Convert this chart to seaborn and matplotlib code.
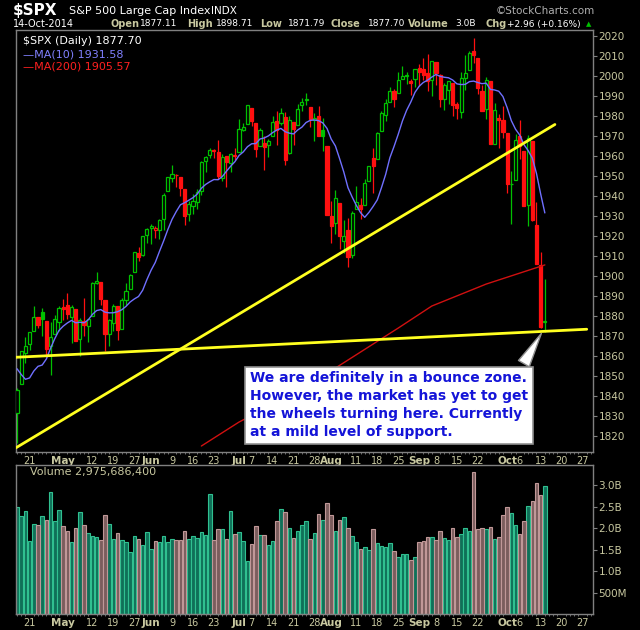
import numpy as np
import pandas as pd
import matplotlib
matplotlib.use('Agg')
import matplotlib.pyplot as plt
import seaborn as sns

# daily $SPX, 15-Apr-2014 .. 14-Oct-2014
dates = pd.to_datetime(['2014-04-15','2014-04-16','2014-04-17','2014-04-21','2014-04-22','2014-04-23','2014-04-24','2014-04-25','2014-04-28','2014-04-29','2014-04-30',
 '2014-05-01','2014-05-02','2014-05-05','2014-05-06','2014-05-07','2014-05-08','2014-05-09','2014-05-12','2014-05-13','2014-05-14','2014-05-15','2014-05-16',
 '2014-05-19','2014-05-20','2014-05-21','2014-05-22','2014-05-23','2014-05-27','2014-05-28','2014-05-29','2014-05-30',
 '2014-06-02','2014-06-03','2014-06-04','2014-06-05','2014-06-06','2014-06-09','2014-06-10','2014-06-11','2014-06-12','2014-06-13','2014-06-16','2014-06-17',
 '2014-06-18','2014-06-19','2014-06-20','2014-06-23','2014-06-24','2014-06-25','2014-06-26','2014-06-27','2014-06-30',
 '2014-07-01','2014-07-02','2014-07-03','2014-07-07','2014-07-08','2014-07-09','2014-07-10','2014-07-11','2014-07-14','2014-07-15','2014-07-16','2014-07-17',
 '2014-07-18','2014-07-21','2014-07-22','2014-07-23','2014-07-24','2014-07-25','2014-07-28','2014-07-29','2014-07-30','2014-07-31',
 '2014-08-01','2014-08-04','2014-08-05','2014-08-06','2014-08-07','2014-08-08','2014-08-11','2014-08-12','2014-08-13','2014-08-14','2014-08-15','2014-08-18',
 '2014-08-19','2014-08-20','2014-08-21','2014-08-22','2014-08-25','2014-08-26','2014-08-27','2014-08-28','2014-08-29',
 '2014-09-02','2014-09-03','2014-09-04','2014-09-05','2014-09-08','2014-09-09','2014-09-10','2014-09-11','2014-09-12','2014-09-15','2014-09-16','2014-09-17',
 '2014-09-18','2014-09-19','2014-09-22','2014-09-23','2014-09-24','2014-09-25','2014-09-26','2014-09-29','2014-09-30',
 '2014-10-01','2014-10-02','2014-10-03','2014-10-06','2014-10-07','2014-10-08','2014-10-09','2014-10-10','2014-10-13','2014-10-14'])

opens = [1831.45,1846.01,1861.73,1865.79,1872.57,1879.32,1881.97,1877.72,1865.00,1870.78,1877.10,
 1884.39,1885.30,1879.45,1883.69,1868.53,1877.39,1875.27,1880.03,1896.75,1897.13,1888.16,1871.19,
 1876.66,1884.88,1873.34,1888.19,1893.32,1902.01,1911.77,1910.60,1920.33,
 1923.87,1923.07,1923.06,1928.52,1942.41,1948.97,1950.34,1949.37,1943.35,1930.80,1934.84,1937.15,
 1942.73,1957.50,1960.45,1962.92,1961.97,1949.27,1959.89,1956.56,1960.79,
 1962.29,1973.06,1975.88,1984.22,1976.39,1965.10,1966.67,1965.76,1969.86,1977.36,1976.35,1979.75,
 1961.54,1976.93,1975.65,1985.32,1988.07,1984.60,1978.25,1980.03,1973.21,1965.14,
 1929.80,1926.62,1936.34,1917.29,1923.03,1910.35,1933.43,1935.73,1935.60,1947.41,1958.87,1958.36,
 1972.73,1980.46,1986.82,1992.60,1991.74,1998.59,2000.54,1997.42,1998.45,
 2004.07,2003.57,2001.67,1998.00,2007.17,2000.73,1988.41,1992.85,1996.74,1986.04,1981.93,1999.30,
 2003.07,2012.74,2009.08,1992.78,1983.34,1997.32,1966.22,1978.96,1978.21,
 1971.44,1945.83,1948.12,1970.01,1962.36,1935.55,1967.68,1925.63,1905.65,1877.11]
highs = [1844.02,1862.31,1869.63,1871.89,1884.89,1879.75,1884.06,1877.72,1877.01,1880.60,1885.20,
 1888.59,1891.33,1885.51,1883.69,1878.83,1889.07,1878.57,1897.13,1902.17,1897.13,1888.16,1878.28,
 1886.00,1884.88,1888.80,1896.33,1901.26,1912.28,1914.46,1920.03,1924.03,
 1925.88,1925.07,1928.63,1941.74,1949.44,1955.55,1950.86,1949.37,1943.35,1937.30,1941.15,1943.69,
 1957.74,1959.87,1963.91,1963.74,1968.17,1960.83,1959.89,1961.47,1964.24,
 1978.58,1976.67,1985.59,1984.22,1976.39,1974.15,1969.84,1968.67,1979.85,1982.52,1983.94,1981.80,
 1979.91,1976.93,1986.24,1989.23,1991.39,1984.60,1981.52,1984.85,1978.90,1965.14,
 1937.35,1942.92,1936.34,1927.91,1928.89,1932.38,1944.90,1939.20,1948.41,1955.23,1964.04,1971.99,
 1982.57,1988.57,1994.76,1993.54,2001.95,2005.04,2002.14,1998.55,2003.38,
 2006.12,2009.28,2011.17,2007.71,2007.17,2001.01,1996.66,1997.65,1996.74,1987.18,2002.28,2010.74,
 2012.34,2019.26,2009.08,1995.41,1999.79,1997.32,1986.37,1981.28,1985.17,
 1971.44,1952.32,1971.19,1977.84,1962.36,1970.36,1967.68,1936.98,1912.09,1898.71]
lows = [1816.29,1846.01,1856.72,1863.18,1872.57,1873.91,1870.24,1859.70,1850.61,1870.78,1872.69,
 1878.04,1878.50,1866.77,1867.72,1859.79,1870.05,1867.02,1880.03,1896.06,1885.77,1862.36,1864.82,
 1872.42,1868.14,1873.34,1885.39,1893.32,1902.01,1907.30,1909.82,1916.64,
 1915.98,1918.79,1918.60,1922.93,1942.41,1947.16,1944.64,1940.08,1925.78,1927.69,1930.91,1933.55,
 1940.71,1952.26,1959.17,1958.89,1948.34,1947.49,1944.69,1952.18,1958.22,
 1962.29,1972.58,1975.88,1974.88,1959.46,1965.10,1952.86,1959.63,1969.86,1965.34,1975.67,1955.59,
 1960.82,1965.77,1975.65,1982.44,1985.79,1974.37,1967.31,1969.95,1962.42,1930.67,
 1916.37,1921.20,1913.77,1911.45,1904.78,1909.01,1933.43,1928.29,1935.60,1947.41,1941.50,1958.36,
 1972.73,1977.68,1986.82,1984.76,1991.74,1998.59,1996.20,1990.52,1994.65,
 1994.85,1998.14,1992.54,1990.10,1995.60,1984.61,1982.99,1985.93,1980.26,1978.48,1979.06,1993.29,
 2003.07,2006.59,1991.01,1982.77,1978.63,1965.99,1966.22,1964.04,1968.96,
 1941.72,1926.03,1948.12,1958.43,1935.10,1925.25,1927.56,1906.05,1874.14,1871.79]
closes = [1842.98,1862.31,1864.85,1871.89,1879.55,1875.39,1878.61,1863.40,1869.43,1878.33,1883.95,
 1883.68,1881.14,1884.66,1867.72,1878.21,1875.63,1878.48,1896.65,1897.45,1888.53,1870.85,1877.86,
 1885.08,1872.83,1888.03,1892.49,1900.53,1911.91,1909.78,1920.03,1923.57,
 1924.97,1924.24,1927.88,1940.46,1949.44,1951.27,1950.79,1943.89,1930.11,1936.16,1937.78,1941.99,
 1956.98,1959.48,1962.87,1962.61,1949.98,1959.53,1957.22,1960.96,1960.23,
 1973.32,1974.62,1985.44,1977.65,1963.71,1972.83,1964.68,1967.57,1977.10,1973.28,1981.57,1958.12,
 1978.22,1973.63,1983.53,1987.01,1987.98,1978.34,1978.91,1969.95,1970.07,1930.67,
 1925.15,1938.99,1920.21,1920.24,1909.57,1931.59,1936.92,1933.75,1946.72,1955.18,1955.06,1971.74,
 1981.60,1986.51,1992.37,1988.40,1997.92,2000.02,2000.12,1996.74,2003.37,
 2002.28,2000.72,1997.65,2007.71,2001.54,1988.44,1995.69,1997.45,1985.54,1984.13,1998.98,2001.57,
 2011.36,2010.40,1994.29,1982.77,1998.30,1965.99,1982.85,1977.80,1972.29,
 1946.16,1946.17,1967.90,1964.82,1935.10,1968.89,1928.21,1906.13,1874.74,1877.70]
# closes before the window, only for the 10-day average
prior_closes = [1890.90,1888.77,1865.09,1845.04,1851.96,1872.18,1833.08,1815.69,1830.61]

# volume in billions
volume = [2.49,2.28,2.40,1.70,2.09,2.07,2.28,2.19,2.84,2.16,2.42,2.05,1.93,1.67,2.00,2.37,2.07,1.88,1.81,1.79,
 1.72,2.30,2.09,1.74,1.88,1.72,1.67,1.44,1.81,1.74,1.60,1.90,1.51,1.70,1.67,1.81,1.67,1.74,1.72,1.72,
 1.93,1.74,1.81,1.77,1.90,1.84,2.79,1.72,1.98,1.98,1.74,2.40,1.86,1.90,
 1.70,1.23,1.63,2.05,1.84,1.84,1.60,1.70,2.16,2.44,2.37,2.00,1.77,1.93,2.07,2.16,1.74,1.88,2.33,2.19,
 2.58,2.30,1.93,2.19,2.26,2.00,1.81,1.67,1.51,1.56,1.49,1.98,1.65,1.58,1.56,1.65,1.47,
 1.33,1.40,1.40,1.26,1.33,1.67,1.70,1.79,1.79,1.72,1.93,1.77,1.72,2.00,1.79,1.86,2.00,1.93,3.30,1.98,
 2.00,1.98,2.02,1.74,1.79,2.30,2.49,2.35,2.07,1.86,2.16,2.51,2.63,3.05,2.77,2.98]

# 200-day average (day index, value)
ma200_idx = [44, 53, 67, 91, 99, 112, 126]
ma200_val = [1815, 1827, 1842, 1874, 1885, 1896, 1905.57]

# trendlines drawn on the chart (day index, price)
trend1_x = [-0.2, 128.4]
trend1_y = [1814.2, 1975.8]
trend2_x = [-4, 136]
trend2_y = [1859.0, 1873.4]

tick_idx = [3, 11, 18, 23, 28, 32, 37, 42, 47, 53, 56, 61, 66, 71, 75, 81, 86, 91, 96, 100, 105, 110, 117, 120, 125, 130, 135]
tick_lab = ['21', 'May', '12', '19', '27', 'Jun', '9', '16', '23', 'Jul', '7', '14', '21', '28', 'Aug', '11', '18', '25',
            'Sep', '8', '15', '22', 'Oct', '6', '13', '20', '27']
months = {'May', 'Jun', 'Jul', 'Aug', 'Sep', 'Oct'}

note = ("We are definitely in a bounce zone.\nHowever, the market has yet to get\n"
        "the wheels turning here. Currently\nat a mild level of support.")

sns.set_style('dark', {'axes.facecolor': 'black', 'figure.facecolor': 'black'})
plt.rcParams['font.family'] = ['DejaVu Sans']

n = len(closes)
idx = np.arange(n)
o = np.array(opens); h = np.array(highs); l = np.array(lows); c = np.array(closes)
prev = np.concatenate([[prior_closes[-1]], c[:-1]])
up_day = c >= prev
ma10 = pd.Series(prior_closes + closes).rolling(10).mean().values[len(prior_closes):]

GREEN = '#00c000'
RED = '#ff1010'
LBL = '#c8c8a0'
GRAY = '#808080'

fig = plt.figure(figsize=(6.4, 6.3), dpi=100)
ax = fig.add_axes([0.025, 0.2825, 0.9016, 0.6697])
axv = fig.add_axes([0.025, 0.0254, 0.9016, 0.2366])

# candles
col = np.where(up_day, GREEN, RED)
ax.vlines(idx, l, h, colors=col, lw=0.9, zorder=3)
body_lo = np.minimum(o, c)
body_h = np.maximum(np.abs(c - o), 0.4)
hollow = c > o
ax.bar(idx[hollow], body_h[hollow], bottom=body_lo[hollow], width=0.75,
       facecolor='black', edgecolor=col[hollow], lw=0.9, zorder=4)
ax.bar(idx[~hollow], body_h[~hollow], bottom=body_lo[~hollow], width=0.75,
       facecolor=col[~hollow], edgecolor=col[~hollow], lw=0.9, zorder=4)

sns.lineplot(x=idx, y=ma10, ax=ax, color='#7070ff', lw=1, zorder=5)
sns.lineplot(x=ma200_idx, y=ma200_val, ax=ax, color='#d01010', lw=1, zorder=5)
ax.plot(trend1_x, trend1_y, color='#ffff20', lw=2, zorder=6, solid_capstyle='round')
ax.plot(trend2_x, trend2_y, color='#ffff20', lw=2, zorder=6, clip_on=True)

ax.annotate(note, xy=(125.5, 1872.5), xytext=(55.5, 1852.3), textcoords='data',
            ha='left', va='top', fontsize=10, fontweight='bold', color='#1414d8', linespacing=1.35,
            bbox=dict(boxstyle='square,pad=0.35', fc='white', ec='#909090', lw=1.2),
            arrowprops=dict(arrowstyle='wedge,tail_width=0.9,shrink_factor=0.5', fc='white', ec='#909090',
                            relpos=(0.97, 1.0)), zorder=8)

ax.set_xlim(-0.25, 137.5)
ax.set_ylim(1812.0, 2023.0)
ax.yaxis.tick_right()
ax.set_yticks(np.arange(1820, 2021, 10))
ax.tick_params(axis='y', colors=LBL, labelsize=7.5, length=3, color=GRAY, pad=1)

# legend lines in panel
ax.text(0.012, 0.985, '$SPX (Daily) 1877.70', transform=ax.transAxes, color='white', fontsize=8, va='top')
ax.text(0.012, 0.955, '\u2014MA(10) 1931.58', transform=ax.transAxes, color='#8080ff', fontsize=8, va='top')
ax.text(0.012, 0.925, '\u2014MA(200) 1905.57', transform=ax.transAxes, color='#ff2020', fontsize=8, va='top')

# volume
vdf = pd.DataFrame({'day': idx, 'vol': volume, 'dir': np.where(up_day, 'up', 'down')})
sns.barplot(data=vdf, x='day', y='vol', hue='dir', palette={'up': '#008060', 'down': '#805858'},
            dodge=False, width=0.85, legend=False, ax=axv, lw=0.8)
for bar in axv.patches:
    fc = bar.get_facecolor()
    bar.set_edgecolor('#30c090' if fc[1] > 0.4 else '#c09898')
axv.set_xlim(-0.25, 137.5)
axv.set_ylim(0, 3.47)
axv.yaxis.tick_right()
axv.set_yticks([0.5, 1.0, 1.5, 2.0, 2.5, 3.0])
axv.set_yticklabels(['500M', '1.0B', '1.5B', '2.0B', '2.5B', '3.0B'])
axv.tick_params(axis='y', colors=LBL, labelsize=7.5, length=3, color=GRAY, pad=1)
axv.set_xlabel(''); axv.set_ylabel('')
axv.text(0.025, 0.985, 'Volume 2,975,686,400', transform=axv.transAxes, color=LBL, fontsize=8, va='top')

for a in (ax, axv):
    a.set_xticks(tick_idx)
    a.set_xticklabels(tick_lab)
    a.set_xticks(np.arange(0, 138), minor=True)
    a.tick_params(axis='x', which='major', colors=LBL, labelsize=7, length=2, color=GRAY, pad=1)
    a.tick_params(axis='x', which='minor', bottom=True, length=1.5, color=GRAY)
    for t in a.get_xticklabels():
        if t.get_text() in months:
            t.set_fontweight('bold')
            t.set_fontsize(7.5)
    for s in a.spines.values():
        s.set_color(GRAY)
        s.set_linewidth(1)

# header
Y1, Y2 = 1 - 11 / 630, 1 - 24 / 630
fig.text(0.02, Y1, '$SPX', color='white', fontsize=11, fontweight='bold', va='center')
fig.text(0.108, Y1, 'S&P 500 Large Cap Index', color='white', fontsize=8, va='center')
fig.text(0.33, Y1, 'INDX', color='white', fontsize=7.5, va='center')
fig.text(0.93, Y1, '\u00a9StockCharts.com', color='#b0b0b0', fontsize=7.5, va='center', ha='right')
fig.text(0.02, Y2, '14-Oct-2014', color='white', fontsize=7, va='center')
hdr = [(0.173, 'Open', True), (0.219, '1877.11', False), (0.293, 'High', True), (0.337, '1898.71', False),
       (0.406, 'Low', True), (0.450, '1871.79', False), (0.517, 'Close', True), (0.575, '1877.70', False),
       (0.637, 'Volume', True), (0.711, '3.0B', False), (0.759, 'Chg', True), (0.792, '+2.96 (+0.16%)', False)]
for x, s, b in hdr:
    fig.text(x, Y2, s, color=LBL if b else 'white', fontsize=7 if b else 6.5,
             fontweight='bold' if b else 'normal', va='center')
fig.text(0.916, Y2, '\u25b2', color='#00c000', fontsize=5, va='center')

fig.savefig('out.png', dpi=100, facecolor='black')
